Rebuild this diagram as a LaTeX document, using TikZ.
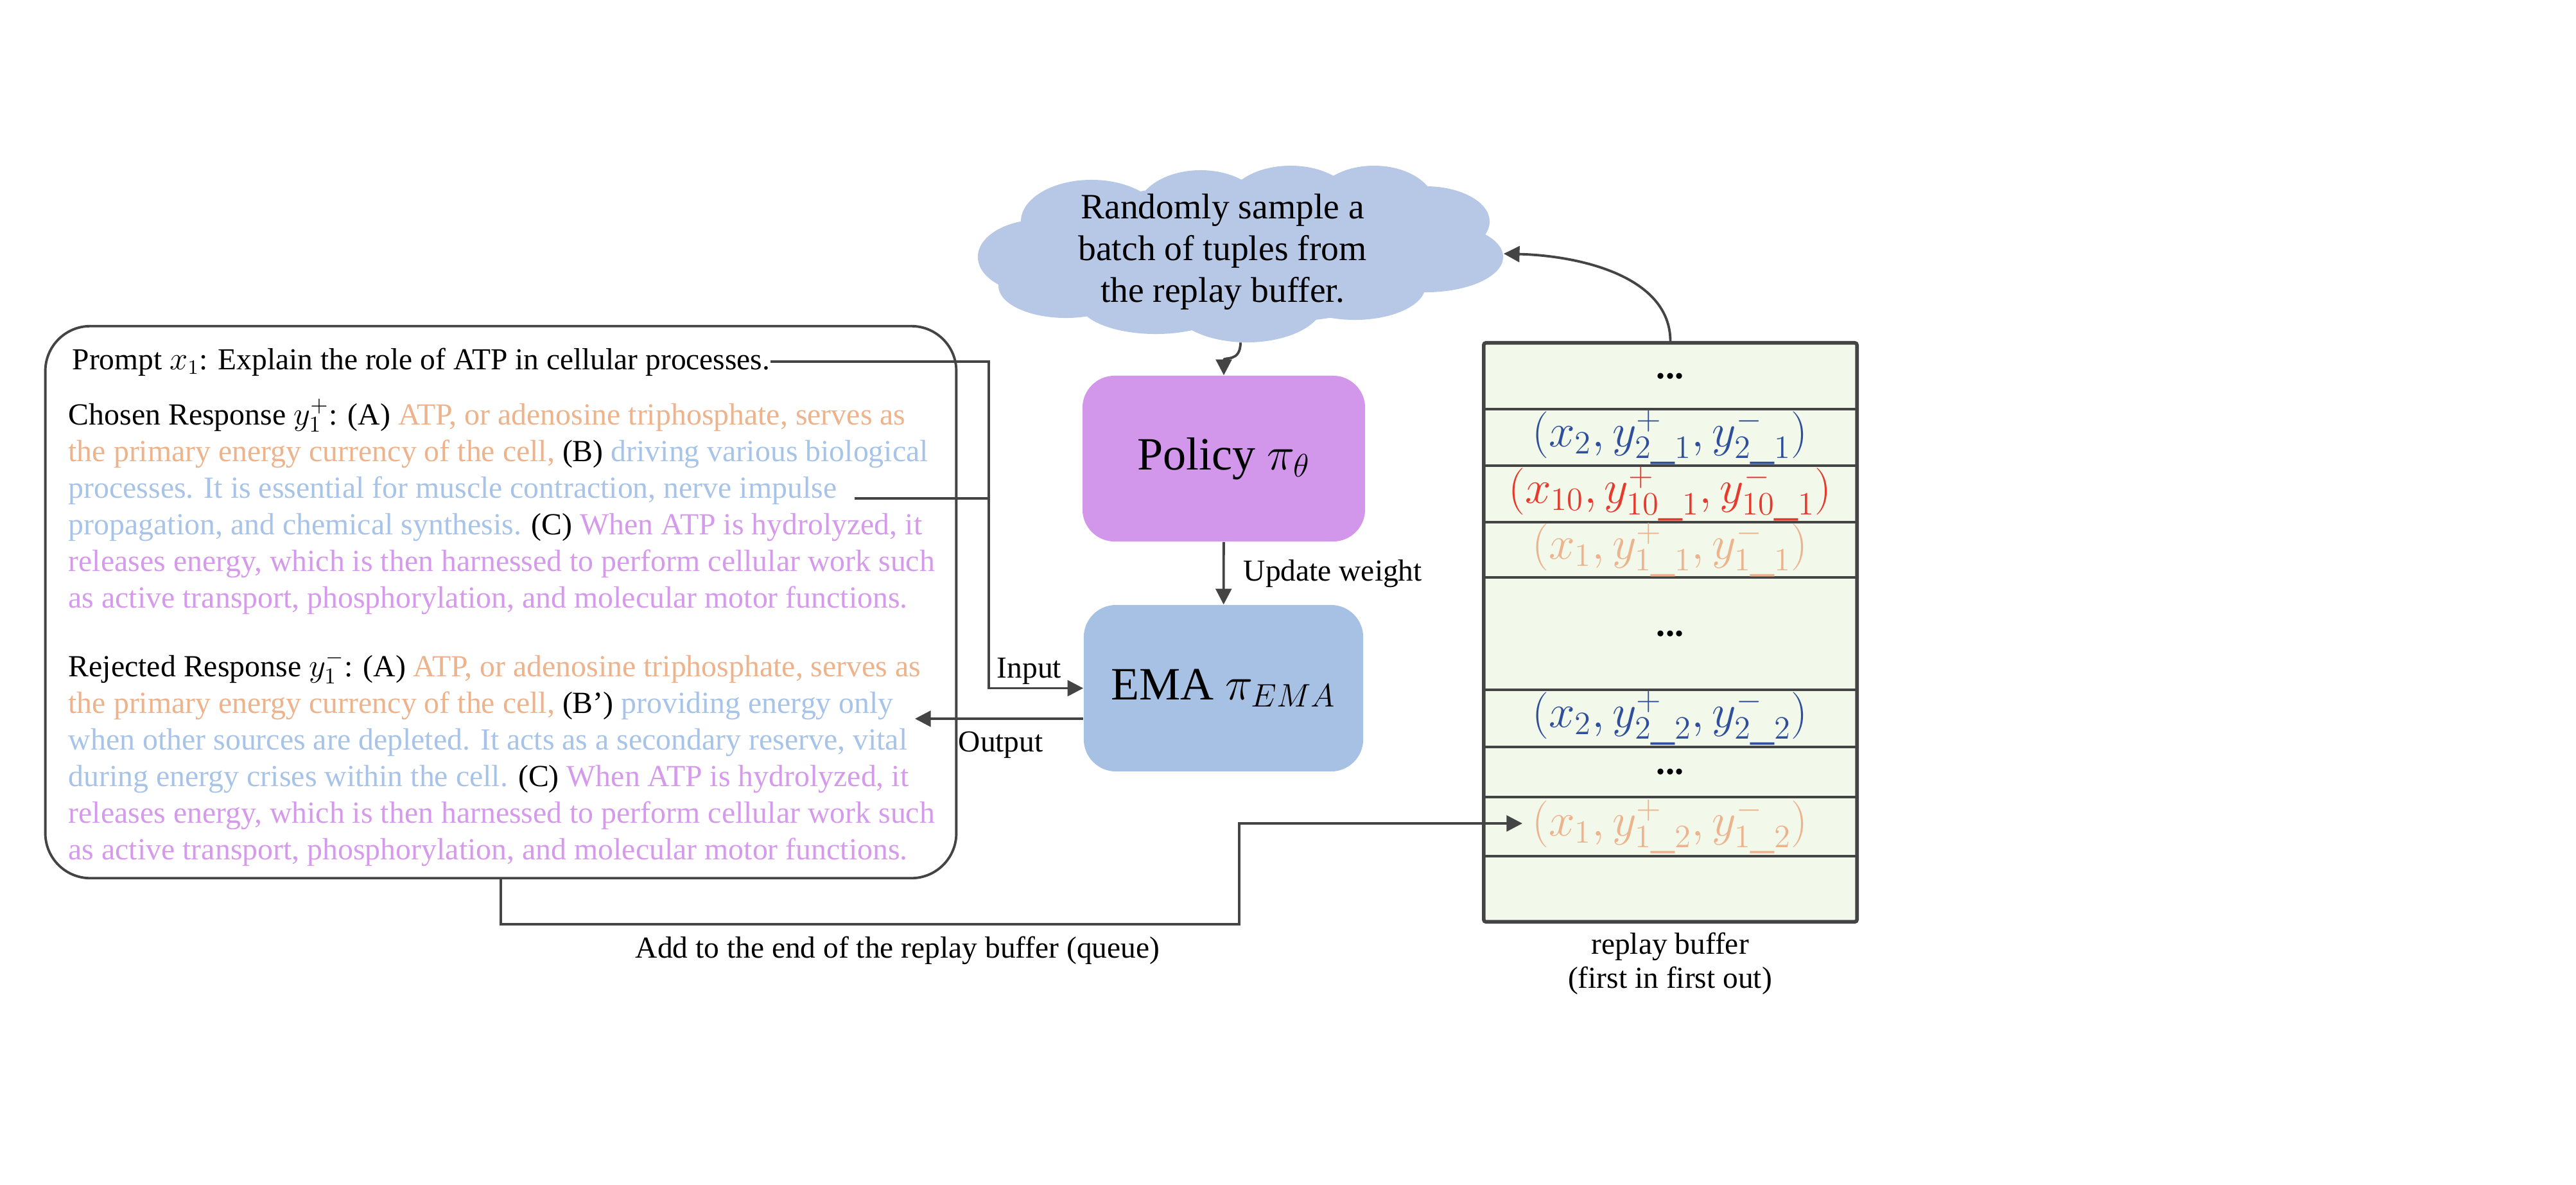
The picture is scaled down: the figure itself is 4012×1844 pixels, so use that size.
\documentclass[tikz,border=0pt]{standalone}
\usepackage{fontspec}
\setmainfont{Liberation Serif}
\usetikzlibrary{arrows.meta,positioning}
\definecolor{txtorange}{HTML}{EDB38C}
\definecolor{txtblue}{HTML}{A7C4E8}
\definecolor{txtviolet}{HTML}{D69AEC}
\definecolor{cloudblue}{HTML}{B7C7E6}
\definecolor{policyviolet}{HTML}{D296EB}
\definecolor{emablue}{HTML}{A7C1E5}
\definecolor{bufgreen}{HTML}{F2F8EA}
\definecolor{linegray}{HTML}{444444}
\definecolor{tupblue}{HTML}{2F4F9C}
\definecolor{tupred}{HTML}{E73A2C}
\newcommand{\ora}[1]{\textcolor{txtorange}{#1}}
\newcommand{\blu}[1]{\textcolor{txtblue}{#1}}
\newcommand{\vio}[1]{\textcolor{txtviolet}{#1}}
\tikzset{
every node/.style={inner sep=0pt},
bodytext/.style={align=left,anchor=north west,font=\fontsize{13.6}{16.2}\selectfont},
modelbox/.style={rectangle,rounded corners=0.5cm,minimum width=4.4cm,minimum height=2.58cm,font=\fontsize{20.5}{24}\selectfont},
tuple/.style={font=\fontsize{21}{24}\selectfont},
dotsrow/.style={font=\fontsize{16}{18}\selectfont\bfseries},
smalltext/.style={font=\fontsize{13.5}{15}\selectfont},
conn/.style={->,draw=linegray,line width=1.1pt}
}
\begin{document}
\begin{tikzpicture}[x=0.01cm,y=-0.01cm,>={Triangle[length=7pt,width=7pt]}]
\useasboundingbox (0,0) rectangle (4012,1844);

% prompt and the two responses
\node[draw=linegray,line width=1.1pt,rounded corners=0.7cm,minimum width=14.18cm,minimum height=8.59cm] (qa) at (780,937.5) {};
\node[anchor=base west,font=\fontsize{13.5}{16.2}\selectfont] (prompt) at (112,575) {Prompt $x_1$: Explain the role of ATP in cellular processes.};
\node[bodytext] (chosen) at (106,620) {\strut Chosen Response $y_1^+$: (A) \ora{ATP, or adenosine triphosphate, serves as}\\
\ora{the primary energy currency of the cell,} (B) \blu{driving various biological}\\
\blu{processes. It is essential for muscle contraction, nerve impulse}\\
\blu{propagation, and chemical synthesis.} (C) \vio{When ATP is hydrolyzed, it}\\
\vio{releases energy, which is then harnessed to perform cellular work such}\\
\vio{as active transport, phosphorylation, and molecular motor functions.}};
\node[bodytext] (rejected) at (106,1012) {\strut Rejected Response $y_1^-$: (A) \ora{ATP, or adenosine triphosphate, serves as}\\
\ora{the primary energy currency of the cell,} (B’) \blu{providing energy only}\\
\blu{when other sources are depleted. It acts as a secondary reserve, vital}\\
\blu{during energy crises within the cell.} (C) \vio{When ATP is hydrolyzed, it}\\
\vio{releases energy, which is then harnessed to perform cellular work such}\\
\vio{as active transport, phosphorylation, and molecular motor functions.}};

% sampling cloud (puffs drawn as ellipses)
\fill[cloudblue] (1932,395) ellipse [x radius=3.3cm,y radius=1.1cm];
\foreach \cx/\cy/\rx/\ry in {1700/345/1.1/0.65, 1620/400/0.97/0.58, 1660/445/1.05/0.5,
  1800/470/1.2/0.5, 1942/470/1.2/0.63, 2110/445/1.1/0.53, 2220/400/1.21/0.55,
  2220/345/1.0/0.55, 2140/320/0.95/0.62, 2010/320/1.0/0.62, 1870/330/1.0/0.65}
  \fill[cloudblue] (\cx,\cy) ellipse [x radius=\rx cm,y radius=\ry cm];
\node[minimum width=8.18cm,minimum height=2.75cm] (cloud) at (1932,395) {};
\node[align=center,font=\fontsize{15.8}{18.5}\selectfont] (cloudtxt) at (1904,392) {Randomly sample a\\batch of tuples from\\the replay buffer.};

% models
\node[modelbox,fill=policyviolet] (policy) at (1906,714) {Policy $\pi_\theta$};
\node[modelbox,fill=emablue,minimum width=4.35cm,minimum height=2.59cm] (ema) at (1905.5,1071.5) {EMA $\pi_{EMA}$};

% replay buffer
\node[draw=linegray,line width=1.6pt,fill=bufgreen,rounded corners=1pt,minimum width=5.81cm,minimum height=9.01cm] (buf) at (2601.5,984.5) {};
\foreach \y in {637,725,813,899,1074,1163,1241,1333}
  \draw[linegray,line width=1.3pt] (2311,\y) -- (2892,\y);
\node[dotsrow] (r1) at (2601,586) {...};
\node[tuple,text=tupblue] (r2) at (2601,681) {$(x_2, y^+_{2\_1}, y^-_{2\_1})$};
\node[tuple,text=tupred] (r3) at (2601,769) {$(x_{10}, y^+_{10\_1}, y^-_{10\_1})$};
\node[tuple,text=txtorange] (r4) at (2601,856) {$(x_1, y^+_{1\_1}, y^-_{1\_1})$};
\node[dotsrow] (r5) at (2601,987) {...};
\node[tuple,text=tupblue] (r6) at (2601,1118) {$(x_2, y^+_{2\_2}, y^-_{2\_2})$};
\node[dotsrow] (r7) at (2601,1202) {...};
\node[tuple,text=txtorange] (r8) at (2601,1287) {$(x_1, y^+_{1\_2}, y^-_{1\_2})$};
\node[smalltext,align=center] (buflabel) at (2601,1500) {replay buffer\\(first in first out)};

% connectors
\coordinate (inbus) at (1540,776);
\coordinate (nerve) at (1331,776);
\coordinate (outend) at (1425,1119);
\coordinate (bufin) at (2371,1282);
\draw[conn] (cloud.south) .. controls (1932,565) and (1906,555) .. (policy.north);
\draw[conn] (policy) -- (ema);
\node[smalltext,anchor=west] (update) at (1936,893) {Update weight};
\draw[conn] (prompt.east) -| (inbus) |- (ema.west);
\draw[linegray,line width=1.1pt] (nerve) -- (inbus);
\node[smalltext,anchor=base west] (inputlbl) at (1552,1055) {Input};
\draw[conn] (ema.west |- outend) -- (outend);
\node[smalltext,anchor=base west] (outputlbl) at (1492,1170) {Output};
\draw[conn] (qa.south) |- (1930,1439) |- (bufin);
\node[smalltext] (addlbl) at (1398,1480) {Add to the end of the replay buffer (queue)};
\draw[conn] (buf.north) .. controls (2601,430) and (2460,398) .. (cloud.east);
\end{tikzpicture}
\end{document}
